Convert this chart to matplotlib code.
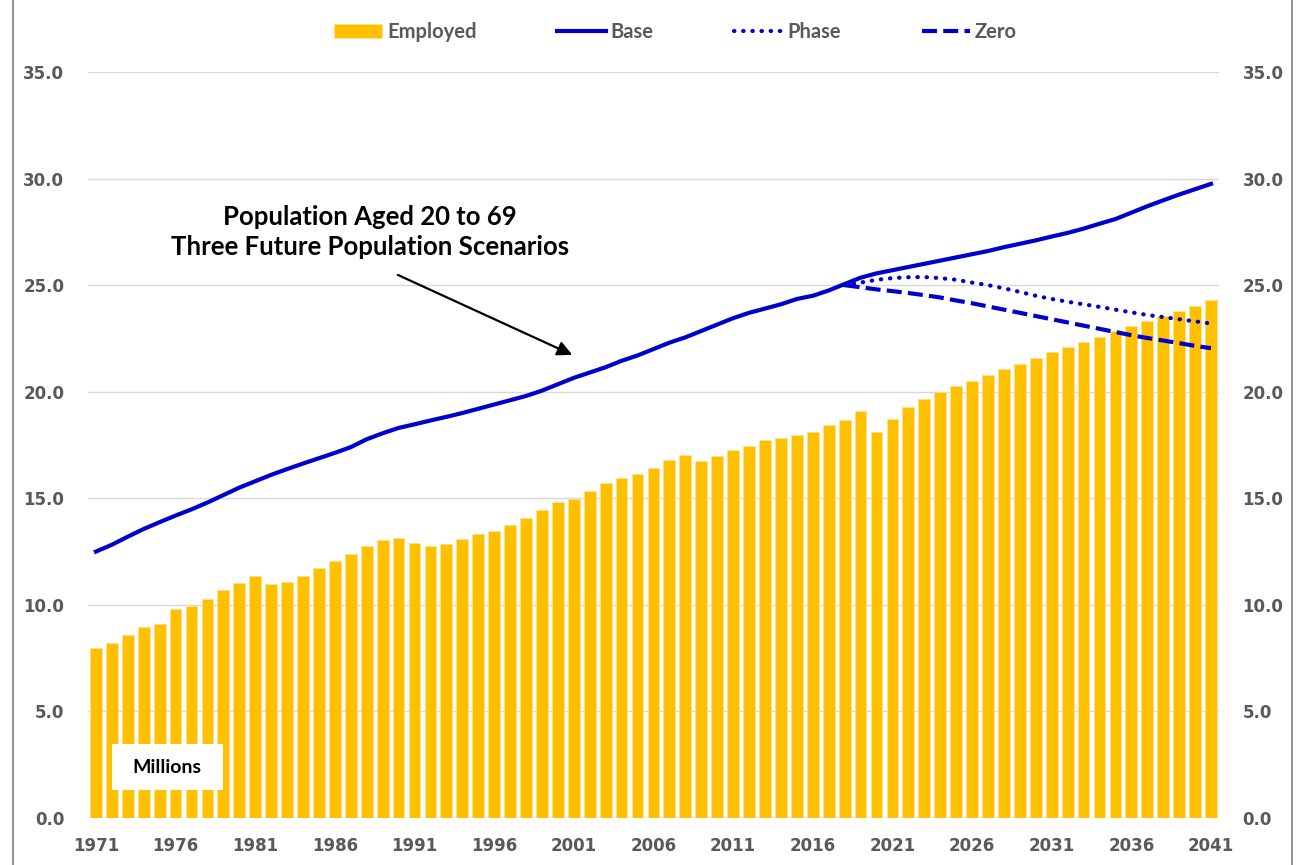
import numpy as np
import matplotlib.pyplot as plt
from matplotlib.patches import Rectangle

years = np.arange(1971, 2042)

employed = [7.96, 8.20, 8.59, 8.95, 9.10, 9.81, 9.96, 10.28, 10.72, 11.04,
            11.36, 11.00, 11.09, 11.36, 11.72, 12.06, 12.39, 12.76, 13.05, 13.12,
            12.90, 12.78, 12.84, 13.09, 13.33, 13.47, 13.75, 14.09, 14.45, 14.81,
            14.97, 15.34, 15.70, 15.97, 16.16, 16.44, 16.81, 17.05, 16.77, 17.00,
            17.25, 17.46, 17.72, 17.83, 17.97, 18.10, 18.43, 18.69, 19.08, 18.11,
            18.72, 19.27, 19.66, 19.99, 20.27, 20.52, 20.79, 21.05, 21.30, 21.59,
            21.84, 22.09, 22.35, 22.59, 22.84, 23.09, 23.32, 23.56, 23.79, 24.04,
            24.28]

base = [12.50, 12.82, 13.20, 13.56, 13.88, 14.19, 14.48, 14.80, 15.15, 15.50,
        15.80, 16.10, 16.37, 16.63, 16.88, 17.13, 17.40, 17.77, 18.05, 18.30,
        18.47, 18.65, 18.82, 19.00, 19.20, 19.40, 19.60, 19.80, 20.05, 20.35,
        20.65, 20.90, 21.15, 21.45, 21.70, 22.00, 22.30, 22.55, 22.85, 23.15,
        23.45, 23.70, 23.90, 24.10, 24.35, 24.50, 24.75, 25.05, 25.35, 25.55,
        25.70, 25.85, 26.00, 26.15, 26.30, 26.45, 26.60, 26.78, 26.94, 27.10,
        27.28, 27.45, 27.65, 27.88, 28.10, 28.40, 28.70, 28.98, 29.25, 29.50,
        29.75]

scen_years = np.arange(2018, 2042)
phase = [25.00, 25.12, 25.25, 25.33, 25.37, 25.38, 25.33, 25.25, 25.12, 25.00,
         24.85, 24.68, 24.50, 24.35, 24.22, 24.10, 23.98, 23.85, 23.72, 23.60,
         23.50, 23.40, 23.30, 23.20]
zero = [25.00, 24.90, 24.80, 24.72, 24.63, 24.53, 24.42, 24.28, 24.15, 24.00,
        23.85, 23.70, 23.55, 23.40, 23.25, 23.10, 22.95, 22.80, 22.65, 22.52,
        22.40, 22.28, 22.15, 22.04]

yticks = np.arange(0, 36, 5)
xtick_years = np.arange(1971, 2042, 5)

gray = '#595959'
blue = '#0000CC'
gold = '#FFC000'

fig = plt.figure(figsize=(12.99, 8.65), dpi=100)
ax = fig.add_axes([0.0677, 0.0543, 0.8707, 0.8625])

bars = ax.bar(years, employed, width=0.74, color=gold, edgecolor='#FFE08A', linewidth=0.6,
              label='Employed', zorder=2)
l_base, = ax.plot(years, base, color=blue, lw=3.0, label='Base', zorder=3)
l_phase, = ax.plot(scen_years, phase, color=blue, lw=3.0, linestyle=(0, (0.1, 2.1)),
                   dash_capstyle='round', label='Phase', zorder=3)
l_zero, = ax.plot(scen_years, zero, color=blue, lw=3.0, linestyle=(0, (3.6, 1.5)),
                  label='Zero', zorder=3)

ax.set_xlim(1970.5, 2041.5)
ax.set_ylim(0, 35)
ax.set_yticks(yticks)
ax.set_yticklabels([f'{v:.1f}' for v in yticks])
ax.set_xticks(xtick_years)
ax.set_xticklabels([str(y) for y in xtick_years])
ax.grid(axis='y', color='#D9D9D9', lw=1.0, zorder=0)
ax.set_axisbelow(True)
for s in ax.spines.values():
    s.set_visible(False)
ax.tick_params(axis='y', length=0, pad=17, labelright=True, labelsize=12, labelcolor=gray)
ax.tick_params(axis='x', length=0, pad=14, labelsize=12, labelcolor=gray)
for t in ax.yaxis.get_major_ticks() + ax.xaxis.get_major_ticks():
    t.label1.set_fontweight('bold')
    t.label2.set_fontweight('bold')
for t in ax.yaxis.get_major_ticks():
    t.set_pad(17)

ax.text(0.249, 0.786, 'Population Aged 20 to 69\nThree Future Population Scenarios',
        transform=ax.transAxes, ha='center', va='center', fontsize=18.5,
        fontweight='bold', family='Lato', linespacing=1.3, color='black')
ax.annotate('', xy=(2000.9, 21.73), xytext=(1989.95, 25.48),
            arrowprops=dict(arrowstyle='-|>', color='black', lw=1.6,
                            mutation_scale=22, shrinkA=0, shrinkB=0))

ax.add_patch(Rectangle((1972.0, 1.31), 7.0, 2.16, facecolor='white', edgecolor='none', zorder=4))
ax.text(1975.45, 2.35, 'Millions', ha='center', va='center', fontsize=14,
        fontweight='bold', family='Lato', zorder=5)

leg = fig.legend([bars, l_base, l_phase, l_zero], ['Employed', 'Base', 'Phase', 'Zero'],
                 loc='upper center', bbox_to_anchor=(0.52, 0.995), ncol=4, frameon=False,
                 handlelength=2.4, columnspacing=4.0, handletextpad=0.25,
                 prop={'family': 'Lato', 'weight': 'bold', 'size': 14.5})
for t in leg.get_texts():
    t.set_color(gray)

fig.patches.append(Rectangle((0.0098, -0.01), 0.9846, 1.05, transform=fig.transFigure,
                             fill=False, edgecolor='#7F7F7F', lw=1.2))

fig.savefig('out.png', dpi=100)
